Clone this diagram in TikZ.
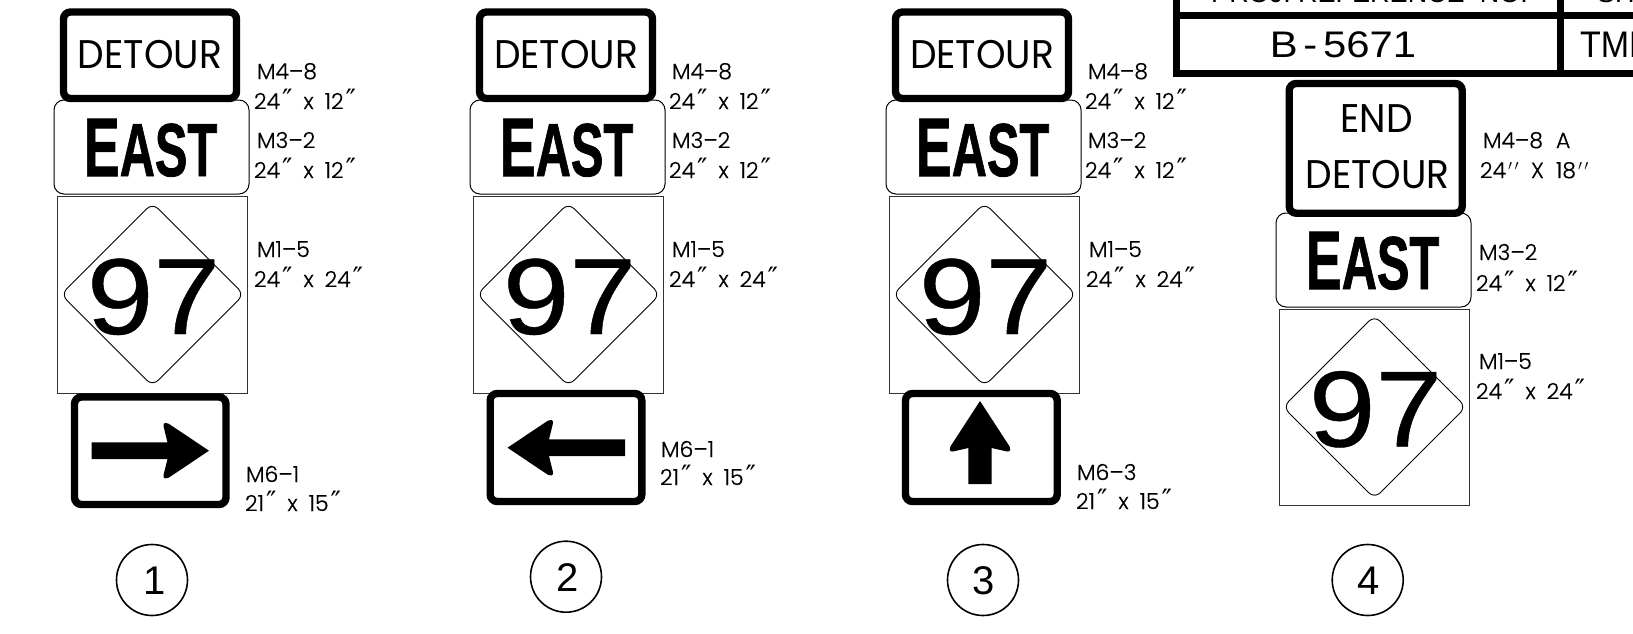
\documentclass[tikz,border=0pt]{standalone}
\usepackage{fontspec}
\setmainfont{Poppins}
\newfontfamily\lightf[FakeBold=0.4]{Poppins Light}
\newfontfamily\signf{Poppins}
\newfontfamily\helv{Liberation Sans}
\newfontfamily\helvn[FakeBold=0.4]{Liberation Sans}
\newfontfamily\helvb[FakeBold=1.2]{Liberation Sans Bold}
\newfontfamily\symf{DejaVu Sans}
\newcommand{\dq}{\hspace{2pt}{\symf\fontsize{28}{28}\selectfont\char"2033}}
\newcommand{\xx}{\hspace{11pt}x\hspace{11pt}}
\newcommand{\fsz}[1]{\fontsize{#1}{#1}\selectfont}
\tikzset{
  heavy/.style={draw=black,line width=7.4pt,rounded corners=7pt,fill=white},
  thinbox/.style={draw=black,line width=1pt,fill=white},
  txt/.style={inner sep=0pt,outer sep=0pt,anchor=base west,text=black},
  ctr/.style={inner sep=0pt,outer sep=0pt,anchor=base,text=black},
  lab/.style={txt,font=\lightf\fsz{22}},
  signtxt/.style={ctr,font=\signf\fsz{40}},
  eastt/.style={ctr,font=\helvb\fsz{83}},
  numt/.style={ctr,font=\helvn\fsz{108}},
  circt/.style={ctr,font=\helv\fsz{40}},
  num/.style={draw=black,line width=1.6pt,circle,minimum size=71pt,inner sep=0pt},
  tbl/.style={draw=black,line width=7pt},
}
% EAST plate, marker and square, shifted by (#1,#2)
\newcommand{\eastsign}[3]{%
  \begin{scope}[shift={(#1,#2)}]
    \draw[thinbox,rounded corners=10pt] (54,100) rectangle (249,194);
    \node[eastt] (east#3) at (150.5,176) {\scalebox{0.65}[1]{E\fsz{75}AST}};
  \end{scope}}
\newcommand{\marker}[3]{%
  \begin{scope}[shift={(#1,#2)}]
    \draw[thinbox,draw=black!80] (57.5,196.5) rectangle (247.5,393);
    \draw[line width=0.9pt,rounded corners=8pt] (152.5,203) -- (244,294.5) -- (152.5,386) -- (61,294.5) -- cycle;
    \node[numt] (num#3) at (153.5,334) {\scalebox{1.11}[1]{97}};
  \end{scope}}
\newcommand{\detour}[3]{%
  \begin{scope}[shift={(#1,#2)}]
    \draw[heavy] (63.5,12) rectangle (236.5,98.5);
    \node[signtxt] (det#3) at (150,69) {\scalebox{0.94}[1]{DETOUR}};
  \end{scope}}
\newcommand{\lbl}[4]{\node[lab] (l#1) at (#2,#3) {#4};}
% shaft half, notch, tip, head half, back
\newcommand{\arrowpath}[5]{%
  \fill[black] (0,-#1) -- (#2,-#1) -- (#5,{-#4+3}) .. controls ({#5-0.6},{-#4-0.6}) and ({#5+3},{-#4-1.2}) .. ({#5+5},{-#4+0.4}) -- (#3,0)
   -- ({#5+5},{#4-0.4}) .. controls ({#5+3},{#4+1.2}) and ({#5-0.6},{#4+0.6}) .. (#5,{#4-3}) -- (#2,#1) -- (0,#1) -- cycle;}
\begin{document}
\begin{tikzpicture}[x=1pt,y=-1pt]
\useasboundingbox (0,0) rectangle (1633,634);
\clip (0,0) rectangle (1633,634);
\fill[white] (0,0) rectangle (1633,634);
% Title block
\draw[tbl] (1176.3,-6) -- (1176.3,73.6) -- (1640,73.6);
\draw[tbl] (1176.3,16) -- (1640,16);
\draw[tbl] (1560.3,-6) -- (1560.3,73.6);
\node[ctr,font=\helv\fsz{37}] (ref) at (1343,58) {\scalebox{1.13}[1]{B\hspace{5pt}-\hspace{5pt}5671}};
\node[ctr,font=\helv\fsz{37},anchor=base west] (tmp) at (1580,58) {\scalebox{0.92}[1]{TMP}};
\node[ctr,font=\helv\fsz{27}] (proj) at (1369.5,3) {PROJ. REFERENCE\ \ NO.};
\node[ctr,font=\helv\fsz{27},anchor=base west] (sh) at (1597,3) {SHEET NO.};
% Column 1
\marker{0}{0}{a}\eastsign{0}{0}{a}\detour{0}{0}{a}
\draw[heavy] (74.5,397) rectangle (226,504.5);
\begin{scope}[shift={(91.5,450.7)}]\arrowpath{8.35}{76}{117.5}{27.5}{72}\end{scope}
\node[num] (c1) at (152,580) {};
\node[circt] (c1t) at (155,594) {1};
\lbl{a1}{257}{79}{M4–8}
\lbl{a2}{254}{109}{24\dq\xx12\dq}
\lbl{a3}{257}{148}{M3–2}
\lbl{a4}{254}{178}{24\dq\xx12\dq}
\lbl{a5}{257}{257}{M1–5}
\lbl{a6}{254}{287}{24\dq\xx24\dq}
\lbl{a7}{246}{482}{M6–1}
\lbl{a8}{245}{511}{21\dq\xx15\dq}
% Column 2
\marker{416}{0}{b}\eastsign{416}{0}{b}\detour{416}{0}{b}
\draw[heavy] (490.2,393.5) rectangle (641.8,501.5);
\begin{scope}[shift={(625,447.7)},x={(-1pt,0pt)}]\arrowpath{8.35}{76}{117.5}{27.5}{72}\end{scope}
\node[num] (c2) at (566,576.7) {};
\node[circt] (c2t) at (567.5,591) {2};
\lbl{b1}{672}{79}{M4–8}
\lbl{b2}{669}{109}{24\dq\xx12\dq}
\lbl{b3}{672}{148}{M3–2}
\lbl{b4}{669}{178}{24\dq\xx12\dq}
\lbl{b5}{672}{257}{M1–5}
\lbl{b6}{669}{287}{24\dq\xx24\dq}
\lbl{b7}{661}{457}{M6–1}
\lbl{b8}{660}{485}{21\dq\xx15\dq}
% Column 3
\marker{832}{0}{c}\eastsign{832}{0}{c}\detour{832}{0}{c}
\draw[heavy] (905.5,393.5) rectangle (1057.2,501.5);
\begin{scope}[shift={(980,484)},x={(0pt,1pt)},y={(1pt,0pt)}]\arrowpath{11.7}{36}{83}{30}{32.5}\end{scope}
\node[num] (c3) at (983,580) {};
\node[circt] (c3t) at (984,594) {3};
\lbl{c1}{1088}{79}{M4–8}
\lbl{c2}{1085}{109}{24\dq\xx12\dq}
\lbl{c3}{1088}{148}{M3–2}
\lbl{c4}{1085}{178}{24\dq\xx12\dq}
\lbl{c5}{1089}{257}{M1–5}
\lbl{c6}{1086}{287}{24\dq\xx24\dq}
\lbl{c7}{1077}{480}{M6–3}
\lbl{c8}{1076}{509}{21\dq\xx15\dq}
% Column 4
\marker{1222}{112.5}{d}\eastsign{1222}{113}{d}
\draw[heavy] (1289.2,83.5) rectangle (1462.2,213.2);
\node[signtxt] (endt) at (1376.5,132) {\scalebox{0.94}[1]{END}};
\node[signtxt] (dett) at (1377.5,188) {\scalebox{0.94}[1]{DETOUR}};
\node[num] (c4) at (1367.7,580) {};
\node[circt] (c4t) at (1369,594) {4};
\lbl{d1}{1483}{148}{M4–8\hspace{13pt}A}
\lbl{d2}{1480}{178}{24\hspace{2pt}$'$\hspace{2pt}$'$\hspace{12pt}X\hspace{12pt}18\hspace{2pt}$'$\hspace{2pt}$'$}
\lbl{d3}{1479}{260}{M3–2}
\lbl{d4}{1476}{291}{24\dq\xx12\dq}
\lbl{d5}{1479}{369}{M1–5}
\lbl{d6}{1476}{399}{24\dq\xx24\dq}
\end{tikzpicture}
\end{document}
